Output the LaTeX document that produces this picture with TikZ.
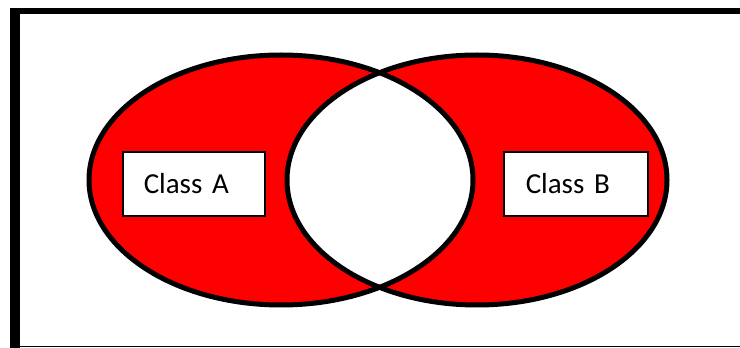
\documentclass[tikz,border=0pt]{standalone}
\usepackage{fontspec}
\setmainfont{Carlito}
\usepackage{xcolor}
\definecolor{vennred}{HTML}{FF0000}
\usepackage{tikz}
\usetikzlibrary{positioning}

\tikzset{
  classbox/.style={draw=black,fill=white,line width=1.5pt,minimum height=64pt,
    text width=100pt,inner xsep=21pt,align=left,anchor=west,
    font=\fontsize{29}{34}\selectfont}
}

\begin{document}
\begin{tikzpicture}[x=1pt,y=1pt]
  \useasboundingbox (0,0) rectangle (740,348);
  \fill[black] (10,334) rectangle (740,340);
  \fill[black] (10,0) rectangle (20,340);
  \draw[black,line width=1pt] (20,1.5) -- (740,1.5);
  \fill[vennred,even odd rule] (281,168) ellipse [x radius=192,y radius=125]
    (477,168) ellipse [x radius=190,y radius=125];
  \draw[black,line width=5pt] (281,168) ellipse [x radius=192,y radius=125];
  \draw[black,line width=5pt] (477,168) ellipse [x radius=190,y radius=125];
  \node[classbox] (classA) at (122,164) {Class A};
  \node[classbox,inner xsep=22pt] (classB) at (503,164) {Class B};
\end{tikzpicture}
\end{document}
